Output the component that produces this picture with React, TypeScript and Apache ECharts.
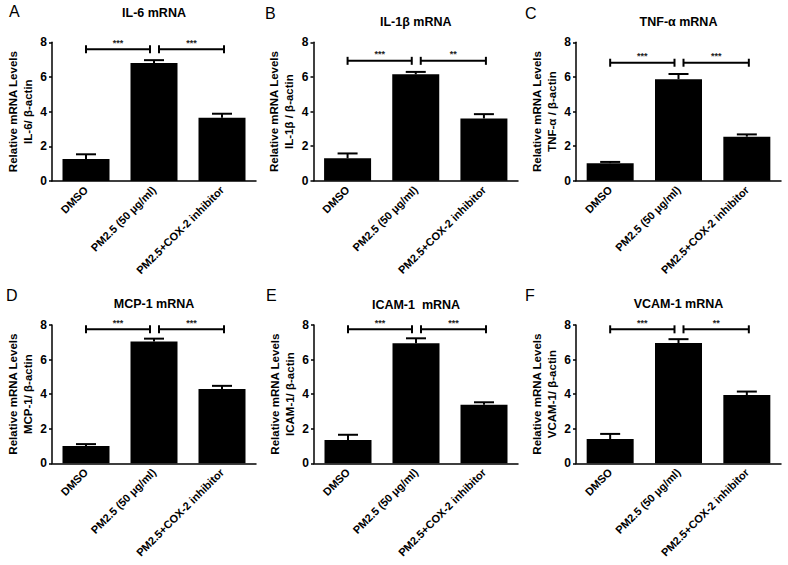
import React, { useEffect, useRef } from "react";
import * as echarts from "echarts";

const categories = ["DMSO", "PM2.5 (50 μg/ml)", "PM2.5+COX-2 inhibitor"];
const panelLetters = ["A", "B", "C", "D", "E", "F"];
const titles = ["IL-6 mRNA", "IL-1β mRNA", "TNF-α mRNA", "MCP-1 mRNA", "ICAM-1  mRNA", "VCAM-1 mRNA"];
const yNameLine1 = "Relative mRNA Levels";
const yNameLine2 = ["IL-6/ β-actin", "IL-1β / β-actin", "TNF-α / β-actin", "MCP-1/ β-actin", "ICAM-1/ β-actin", "VCAM-1/ β-actin"];

const il6Mean = [1.27, 6.8, 3.65];
const il6Err = [0.27, 0.17, 0.23];
const il1bMean = [1.3, 6.15, 3.6];
const il1bErr = [0.28, 0.14, 0.25];
const tnfMean = [1.02, 5.87, 2.55];
const tnfErr = [0.07, 0.3, 0.13];
const mcpMean = [1.0, 7.05, 4.3];
const mcpErr = [0.11, 0.16, 0.18];
const icamMean = [1.35, 6.95, 3.38];
const icamErr = [0.3, 0.28, 0.15];
const vcamMean = [1.4, 6.96, 3.95];
const vcamErr = [0.3, 0.22, 0.2];

const means = [il6Mean, il1bMean, tnfMean, mcpMean, icamMean, vcamMean];
const errs = [il6Err, il1bErr, tnfErr, mcpErr, icamErr, vcamErr];

const sigLeft = ["***", "***", "***", "***", "***", "***"];
const sigRight = ["***", "**", "***", "***", "***", "**"];
const sigLevel = [7.6, 6.93, 6.82, 7.75, 7.75, 7.75];

const yMin = 0;
const yMax = 8;
const yInterval = 2;

const FONT = "'Liberation Sans', Arial, Helvetica, sans-serif";

const grids = [
  { left: 52, top: 42.3, width: 204, height: 138.7 },
  { left: 313.5, top: 42.3, width: 204.5, height: 138.5 },
  { left: 576, top: 42.3, width: 205, height: 138.5 },
  { left: 52, top: 325, width: 204, height: 138.3 },
  { left: 314, top: 325, width: 204, height: 138.3 },
  { left: 576, top: 325, width: 205, height: 138.3 },
];
const titleY = [13, 21.5, 21.5, 304, 305, 304];
const letterPos = [
  [9, 11],
  [265, 13],
  [525, 13],
  [6, 295],
  [266, 295],
  [525, 295],
];

export default function App() {
  const ref = useRef<HTMLDivElement>(null);
  useEffect(() => {
    if (!ref.current) return;
    const chart = echarts.init(ref.current, null, { renderer: "svg" });

    const xAxis: any[] = [];
    const yAxis: any[] = [];
    const series: any[] = [];
    const graphic: any[] = [];

    grids.forEach((g, i) => {
      xAxis.push({
        type: "category",
        gridIndex: i,
        data: categories,
        axisLine: { lineStyle: { color: "#000", width: 1.5 } },
        axisTick: { alignWithLabel: true, length: 3, lineStyle: { color: "#000", width: 1.5 } },
        axisLabel: {
          rotate: 45,
          interval: 0,
          margin: 7,
          fontSize: 11,
          fontWeight: "bold",
          color: "#000",
          fontFamily: FONT,
        },
      });
      yAxis.push({
        type: "value",
        gridIndex: i,
        min: yMin,
        max: yMax,
        interval: yInterval,
        axisLine: { show: true, lineStyle: { color: "#000", width: 1.5 } },
        axisTick: { show: true, length: 3, lineStyle: { color: "#000", width: 1.5 } },
        splitLine: { show: false },
        axisLabel: { fontSize: 12, fontWeight: "bold", color: "#000", margin: 5, fontFamily: FONT },
        name: yNameLine1 + "\n" + yNameLine2[i],
        nameLocation: "middle",
        nameRotate: 90,
        nameGap: 17,
        nameTextStyle: { fontSize: 11.5, fontWeight: "bold", color: "#000", lineHeight: 15, fontFamily: FONT, align: "center" },
      });
      series.push({
        type: "bar",
        xAxisIndex: i,
        yAxisIndex: i,
        data: means[i],
        barWidth: 47,
        itemStyle: { color: "#000" },
        z: 2,
      });
      const errData = means[i].map((m, k) => [k, m, errs[i][k]]);
      series.push({
        type: "custom",
        xAxisIndex: i,
        yAxisIndex: i,
        data: errData,
        encode: { x: 0, y: 1 },
        z: 3,
        renderItem: (params: any, api: any) => {
          const x = api.value(0);
          const v = api.value(1);
          const e = api.value(2);
          const base = api.coord([x, v]);
          const top = api.coord([x, v + e]);
          return {
            type: "group",
            children: [
              { type: "line", shape: { x1: top[0], y1: base[1], x2: top[0], y2: top[1] }, style: { stroke: "#000", lineWidth: 2 } },
              { type: "line", shape: { x1: top[0] - 10, y1: top[1], x2: top[0] + 10, y2: top[1] }, style: { stroke: "#000", lineWidth: 2 } },
            ],
          };
        },
      });
      const sigData = [
        [0, 1, sigLevel[i]],
        [1, 2, sigLevel[i]],
      ];
      const stars = [sigLeft[i], sigRight[i]];
      series.push({
        type: "custom",
        xAxisIndex: i,
        yAxisIndex: i,
        data: sigData,
        encode: { x: [0, 1], y: 2 },
        z: 4,
        renderItem: (params: any, api: any) => {
          const a = api.coord([api.value(0), api.value(2)]);
          const b = api.coord([api.value(1), api.value(2)]);
          const first = params.dataIndex === 0;
          const x1 = first ? a[0] : a[0] + 5;
          const x2 = first ? b[0] - 4 : b[0] + 2;
          const y = a[1];
          const st = { stroke: "#000", lineWidth: 2 };
          return {
            type: "group",
            children: [
              { type: "line", shape: { x1, y1: y, x2, y2: y }, style: st },
              { type: "line", shape: { x1, y1: y - 4, x2: x1, y2: y + 4 }, style: st },
              { type: "line", shape: { x1: x2, y1: y - 4, x2, y2: y + 4 }, style: st },
              {
                type: "text",
                x: (x1 + x2) / 2,
                y: y - 2,
                style: {
                  text: stars[params.dataIndex],
                  fill: "#222",
                  font: "bold 9px " + FONT,
                  textAlign: "center",
                  textVerticalAlign: "bottom",
                },
              },
            ],
          };
        },
      });
      graphic.push({
        type: "text",
        x: g.left + g.width / 2,
        y: titleY[i],
        style: {
          text: titles[i],
          fill: "#000",
          font: "bold 12.5px " + FONT,
          textAlign: "center",
          textVerticalAlign: "middle",
        },
      });
      graphic.push({
        type: "text",
        x: letterPos[i][0],
        y: letterPos[i][1],
        style: {
          text: panelLetters[i],
          fill: "#000",
          font: "16px " + FONT,
          textAlign: "left",
          textVerticalAlign: "middle",
        },
      });
    });

    chart.setOption({
      animation: false,
      backgroundColor: "#fff",
      grid: grids.map((g) => ({ ...g })),
      xAxis,
      yAxis,
      series,
      graphic,
    });
    return () => chart.dispose();
  }, []);

  return (
    <div
      ref={ref}
      style={{ position: "absolute", left: 0, top: 0, width: 788, height: 565, background: "#fff" }}
    />
  );
}
